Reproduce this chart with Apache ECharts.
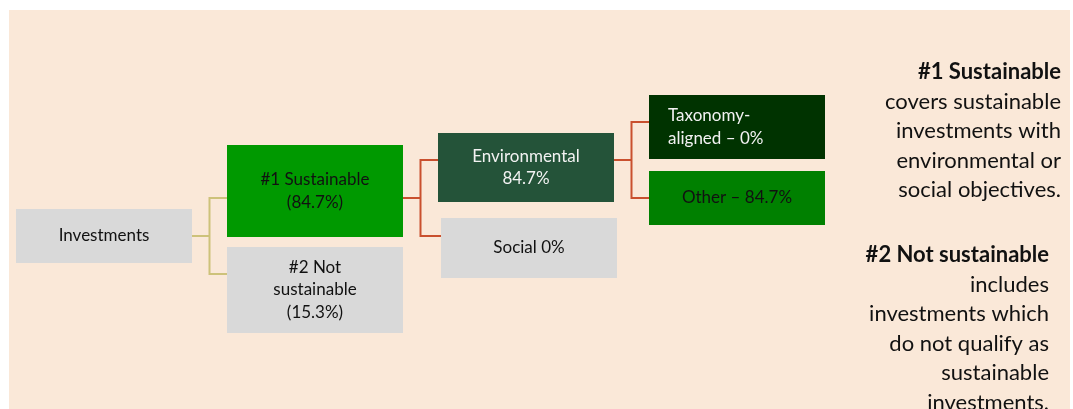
<!DOCTYPE html>
<html>
<head>
<meta charset="utf-8">
<script src="https://cdn.jsdelivr.net/npm/echarts@6/dist/echarts.min.js"></script>
<style>
html,body{margin:0;padding:0;background:#ffffff;}
#chart{width:1073px;height:409px;}
</style>
</head>
<body>
<div id="chart"></div>
<script>
// ---- data ----
const nodeNames = ['Investments', '#1 Sustainable', '#2 Not sustainable', 'Environmental', 'Social', 'Taxonomy-aligned', 'Other'];
const nodeParents = [-1, 0, 0, 1, 1, 3, 3];
const nodeShares = [100, 84.7, 15.3, 84.7, 0, 0, 84.7];
const nodeLabelTemplates = [
  'Investments',
  '#1 Sustainable\n({v}%)',
  '#2 Not\nsustainable\n({v}%)',
  'Environmental\n{v}%',
  'Social {v}%',
  'Taxonomy-\naligned – {v}%',
  'Other – {v}%'
];
const noteTitles = ['#1 Sustainable', '#2 Not sustainable'];
const noteBodies = [
  ['covers sustainable', 'investments with', 'environmental or', 'social objectives.'],
  ['includes', 'investments which', 'do not qualify as', 'sustainable', 'investments.']
];

// ---- styles (per node, by name) ----
const FONT = 'Lato, "Open Sans", sans-serif';
const nodeStyles = {
  'Investments':        {color: '#D9D9D9', size: [176, 54], offset: [0, 0],   text: '#111111', line: '#CDC27A'},
  '#1 Sustainable':     {color: '#009900', size: [176, 92], offset: [0, -7],  text: '#111111', line: '#C9502E'},
  '#2 Not sustainable': {color: '#D9D9D9', size: [176, 86], offset: [0, 16],  text: '#111111'},
  'Environmental':      {color: '#245339', size: [176, 69], offset: [0, 7.5], text: '#F2F2F2', line: '#C9502E'},
  'Social':             {color: '#D9D9D9', size: [176, 60], offset: [3, 12],  text: '#111111'},
  'Taxonomy-aligned':   {color: '#003300', size: [176, 64], offset: [0, 5],   text: '#F2F2F2', align: 'left'},
  'Other':              {color: '#008000', size: [176, 54], offset: [0, 0],   text: '#111111'}
};

function buildTree(forEdges) {
  const items = nodeNames.map(function (name, i) {
    const st = nodeStyles[name];
    const label = nodeLabelTemplates[i].replace('{v}', String(nodeShares[i]));
    return {
      name: name,
      value: nodeShares[i],
      symbol: 'rect',
      symbolSize: st.size,
      symbolOffset: st.offset,
      itemStyle: {color: st.color, borderWidth: 0, opacity: forEdges ? 0 : 1},
      lineStyle: {color: st.line || '#C9502E', width: 2, opacity: forEdges ? 1 : 0, curveness: 0},
      label: forEdges ? {show: false} : {
        show: true,
        position: st.align === 'left' ? 'insideLeft' : 'inside',
        distance: 19,
        formatter: label,
        color: st.text,
        fontFamily: FONT,
        fontSize: 17,
        lineHeight: 22.5,
        align: st.align === 'left' ? 'left' : 'center'
      },
      children: []
    };
  });
  let root = null;
  nodeParents.forEach(function (p, i) {
    if (p < 0) root = items[i]; else items[p].children.push(items[i]);
  });
  items.forEach(function (it) { if (!it.children.length) delete it.children; });
  return root;
}

function treeSeries(forEdges) {
  return {
    type: 'tree',
    data: [buildTree(forEdges)],
    layout: 'orthogonal',
    orient: 'LR',
    edgeShape: 'polyline',
    edgeForkPosition: '50%',
    left: 104, right: 336, top: 46, bottom: 59,
    roam: false,
    expandAndCollapse: false,
    initialTreeDepth: -1,
    silent: true,
    z: forEdges ? 1 : 2,
    label: {position: 'inside'},
    leaves: {label: {position: 'inside'}},
    emphasis: {disabled: true},
    animation: false
  };
}

function noteText(i, right, topCenter) {
  const lh = 29.5;
  return {
    type: 'text',
    z: 10,
    x: right,
    y: topCenter - lh / 2,
    style: {
      text: '{b|' + noteTitles[i] + '}\n' + noteBodies[i].join('\n'),
      align: 'right',
      verticalAlign: 'top',
      fontFamily: FONT,
      fontSize: 22,
      lineHeight: lh,
      fill: '#111111',
      rich: {b: {fontWeight: 'bold', fontFamily: FONT, fontSize: 22, lineHeight: lh, fill: '#111111'}}
    }
  };
}

const chart = echarts.init(document.getElementById('chart'), null, {renderer: 'canvas'});
chart.setOption({
  animation: false,
  backgroundColor: '#ffffff',
  graphic: [
    {type: 'rect', z: -10, shape: {x: 9, y: 10, width: 1061, height: 399}, style: {fill: '#FAE8D8'}},
    noteText(0, 1061, 72),
    noteText(1, 1049, 255)
  ],
  series: [treeSeries(true), treeSeries(false)]
});
</script>
</body>
</html>
